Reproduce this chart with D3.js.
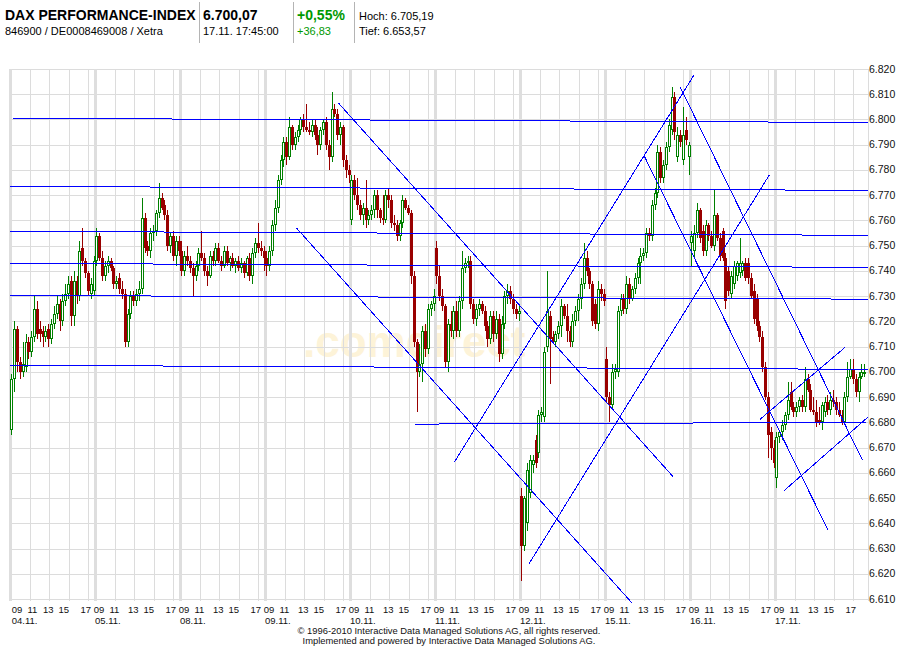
<!DOCTYPE html>
<html><head><meta charset="utf-8">
<script src="https://cdn.jsdelivr.net/npm/d3@7/dist/d3.min.js"></script>
<style>body{margin:0;background:#fff}svg{display:block}text{font-family:"Liberation Sans",Arial,Helvetica,sans-serif}</style>
</head><body><svg id="c" width="900" height="650"></svg>
<script>
// ---------- data ----------
const days = ["04.11.","05.11.","08.11.","09.11.","10.11.","11.11.","12.11.","15.11.","16.11.","17.11."];
const hourLabels = ["13","15","17"];
const yTicks = [6610,6620,6630,6640,6650,6660,6670,6680,6690,6700,6710,6720,6730,6740,6750,6760,6770,6780,6790,6800,6810,6820];
// candles [open, high, low, close]
const d0411 = [[6677,6699,6675,6697],[6697,6720,6692,6717],[6717,6718,6700,6704],[6704,6706,6697,6700],[6700,6712,6698,6703],[6702,6715,6700,6712],[6712,6714,6705,6708],[6708,6716,6706,6714],[6714,6730,6712,6725],[6725,6728,6713,6715],[6717,6720,6712,6715],[6716,6718,6710,6714],[6714,6718,6712,6716],[6717,6719,6710,6713],[6713,6721,6711,6719],[6719,6726,6717,6723],[6723,6730,6721,6727],[6727,6729,6716,6720],[6720,6731,6718,6728],[6728,6735,6726,6731],[6731,6738,6729,6735],[6736,6738,6718,6722],[6722,6740,6718,6736],[6736,6738,6727,6730],[6730,6752,6728,6748],[6749,6757,6742,6744],[6744,6745,6737,6739],[6739,6740,6730,6732],[6731,6737,6729,6735],[6732,6746,6730,6744]];
const d0511 = [[6744,6757,6742,6754],[6754,6755,6744,6745],[6745,6748,6736,6738],[6738,6744,6736,6742],[6742,6746,6739,6744],[6744,6745,6740,6741],[6741,6742,6733,6735],[6735,6738,6733,6736],[6737,6739,6731,6733],[6733,6736,6729,6731],[6731,6733,6710,6712],[6712,6725,6710,6723],[6723,6732,6721,6730],[6730,6732,6726,6728],[6728,6733,6726,6731],[6731,6736,6728,6733],[6733,6769,6731,6761],[6761,6763,6747,6749],[6750,6752,6746,6748],[6748,6757,6745,6755],[6755,6758,6752,6756],[6756,6764,6754,6763],[6763,6775,6761,6769],[6769,6771,6764,6765],[6766,6768,6760,6762],[6762,6764,6748,6750],[6750,6755,6747,6754],[6754,6756,6744,6746],[6746,6754,6742,6752],[6752,6754,6746,6748]];
const d0811 = [[6748,6752,6738,6740],[6740,6748,6738,6746],[6746,6750,6742,6744],[6744,6746,6739,6741],[6741,6743,6730,6738],[6738,6744,6736,6742],[6742,6749,6740,6747],[6747,6756,6744,6745],[6745,6747,6738,6740],[6740,6742,6734,6738],[6738,6748,6737,6746],[6746,6748,6742,6744],[6744,6751,6742,6749],[6749,6751,6743,6744],[6744,6746,6740,6742],[6742,6750,6741,6748],[6748,6750,6742,6743],[6743,6746,6740,6745],[6745,6747,6741,6742],[6742,6745,6739,6744],[6744,6746,6740,6741],[6741,6745,6739,6743],[6743,6744,6737,6739],[6739,6746,6738,6745],[6745,6747,6736,6738],[6738,6749,6735,6747],[6747,6753,6745,6751],[6751,6759,6747,6749],[6749,6752,6746,6748],[6748,6750,6740,6745]];
const d0911 = [[6745,6748,6738,6742],[6742,6750,6740,6748],[6748,6760,6746,6758],[6758,6768,6756,6765],[6765,6778,6763,6776],[6776,6786,6774,6784],[6784,6793,6781,6791],[6791,6793,6782,6785],[6785,6801,6784,6797],[6797,6798,6788,6790],[6790,6795,6788,6793],[6793,6798,6791,6796],[6796,6801,6794,6800],[6800,6802,6795,6797],[6797,6806,6795,6796],[6796,6799,6794,6795],[6795,6800,6793,6798],[6798,6800,6792,6794],[6794,6797,6786,6790],[6790,6797,6788,6796],[6796,6800,6794,6799],[6799,6801,6788,6790],[6790,6792,6780,6785],[6785,6811,6783,6804],[6804,6806,6801,6802],[6802,6804,6792,6794],[6794,6799,6790,6797],[6797,6798,6781,6784],[6784,6786,6777,6780],[6780,6782,6775,6778]];
const d1011 = [[6760,6778,6758,6776],[6776,6778,6768,6770],[6770,6777,6764,6766],[6766,6768,6760,6762],[6762,6767,6758,6765],[6765,6776,6757,6760],[6760,6764,6758,6762],[6762,6766,6760,6764],[6764,6772,6761,6770],[6770,6772,6761,6764],[6764,6765,6759,6761],[6761,6770,6758,6760],[6760,6772,6759,6770],[6770,6773,6765,6768],[6768,6770,6757,6759],[6759,6762,6756,6758],[6758,6760,6752,6754],[6754,6760,6752,6759],[6759,6770,6757,6768],[6768,6769,6764,6765],[6765,6766,6762,6763],[6763,6764,6735,6738],[6738,6740,6710,6712],[6712,6713,6684,6700],[6700,6711,6698,6703],[6703,6718,6696,6716],[6716,6719,6706,6709],[6709,6727,6707,6725],[6725,6728,6722,6727],[6727,6733,6724,6730]];
const d1111 = [[6749,6752,6735,6738],[6738,6742,6728,6730],[6730,6733,6724,6726],[6726,6727,6702,6704],[6704,6721,6700,6719],[6719,6724,6714,6716],[6716,6726,6713,6724],[6724,6728,6714,6716],[6716,6730,6714,6728],[6728,6748,6725,6741],[6741,6745,6739,6743],[6743,6746,6741,6744],[6744,6746,6725,6727],[6727,6729,6719,6721],[6721,6727,6718,6725],[6725,6729,6722,6727],[6727,6728,6723,6724],[6724,6726,6716,6718],[6718,6720,6710,6713],[6713,6724,6711,6722],[6722,6724,6712,6715],[6715,6724,6713,6721],[6721,6723,6704,6707],[6707,6722,6705,6719],[6719,6732,6717,6730],[6730,6735,6727,6732],[6732,6734,6727,6729],[6729,6731,6723,6725],[6725,6727,6721,6723],[6723,6726,6720,6724]];
const d1211 = [[6651,6654,6617,6631],[6631,6651,6629,6650],[6640,6664,6637,6661],[6652,6667,6650,6665],[6663,6667,6660,6665],[6673,6675,6662,6664],[6668,6685,6666,6683],[6683,6686,6680,6684],[6682,6710,6680,6708],[6710,6740,6708,6724],[6722,6724,6695,6713],[6714,6716,6711,6712],[6712,6716,6710,6715],[6715,6720,6713,6718],[6718,6729,6714,6726],[6726,6727,6721,6722],[6722,6727,6712,6716],[6716,6718,6710,6712],[6712,6723,6710,6720],[6720,6726,6718,6724],[6724,6731,6720,6729],[6729,6737,6725,6735],[6735,6751,6733,6745],[6745,6748,6738,6740],[6740,6741,6733,6735],[6735,6736,6718,6720],[6727,6729,6717,6719],[6719,6736,6716,6733],[6733,6735,6728,6731],[6731,6733,6726,6728]];
const d1511 = [[6705,6710,6688,6690],[6690,6692,6680,6687],[6687,6703,6685,6700],[6700,6703,6697,6701],[6700,6726,6698,6724],[6724,6731,6722,6729],[6729,6731,6723,6725],[6725,6738,6723,6735],[6735,6737,6727,6729],[6729,6734,6728,6733],[6733,6739,6731,6737],[6737,6745,6735,6743],[6743,6749,6735,6746],[6746,6749,6744,6747],[6747,6757,6745,6755],[6755,6757,6752,6754],[6754,6768,6752,6766],[6766,6773,6764,6771],[6771,6790,6769,6787],[6787,6789,6775,6777],[6777,6784,6775,6782],[6782,6791,6780,6789],[6789,6800,6787,6798],[6796,6813,6794,6809],[6809,6811,6792,6795],[6785,6797,6783,6794],[6794,6796,6789,6791],[6784,6805,6782,6794],[6796,6801,6790,6792],[6785,6791,6778,6790]];
const d1611 = [[6751,6756,6742,6754],[6748,6758,6745,6755],[6755,6767,6753,6764],[6764,6765,6751,6753],[6756,6758,6746,6748],[6748,6760,6746,6758],[6758,6759,6752,6754],[6754,6756,6749,6750],[6750,6772,6748,6762],[6762,6763,6752,6753],[6753,6755,6744,6746],[6756,6757,6744,6745],[6745,6747,6725,6728],[6740,6742,6730,6732],[6731,6740,6729,6738],[6735,6744,6733,6742],[6738,6744,6736,6743],[6739,6753,6737,6743],[6740,6744,6738,6743],[6743,6745,6736,6737],[6743,6745,6735,6737],[6737,6739,6729,6730],[6732,6735,6719,6721],[6729,6731,6716,6718],[6718,6720,6712,6714],[6714,6716,6700,6702],[6702,6704,6689,6690],[6690,6692,6666,6675],[6676,6678,6665,6670],[6670,6673,6662,6664]];
const d1711 = [[6658,6676,6654,6674],[6674,6677,6672,6676],[6676,6681,6673,6679],[6679,6684,6677,6683],[6683,6696,6681,6689],[6692,6696,6685,6686],[6686,6688,6682,6684],[6684,6688,6682,6686],[6686,6690,6684,6689],[6689,6691,6684,6686],[6686,6702,6684,6697],[6697,6699,6692,6693],[6693,6695,6684,6685],[6685,6690,6683,6684],[6684,6689,6678,6680],[6681,6686,6679,6680],[6680,6688,6677,6687],[6684,6690,6682,6688],[6688,6691,6683,6685],[6685,6692,6683,6689],[6689,6693,6686,6688],[6688,6690,6683,6685],[6685,6688,6682,6683],[6683,6685,6679,6680],[6680,6692,6679,6690],[6690,6704,6688,6698],[6698,6705,6697,6701],[6701,6705,6695,6697],[6697,6699,6690,6692],[6692,6700,6688,6698],[6698,6703,6697,6700],[6700,6703,6698,6700]];
const dayCandles = [d0411,d0511,d0811,d0911,d1011,d1111,d1211,d1511,d1611,d1711];
// drawn trend lines: [dayPos1, value1, dayPos2, value2]
const levelLines = [[0.035,6800.5,10.094,6798.8],[0,6773.5,10.094,6771.9],[0,6755.7,10.094,6754.1],[0,6743.0,10.094,6741.4],[0,6730.3,10.094,6728.8],[0,6702.6,10.094,6701.0],[4.765,6679.3,10.071,6680.0]];
const trendLines = [[3.862,6806.6,7.800,6658.5],[3.373,6756.9,7.318,6608.4],[5.227,6664.2,8.047,6817.6],[6.109,6624.1,8.933,6778.0],[7.462,6785.5,9.624,6637.3],[7.882,6813.0,10.027,6665.1],[8.824,6681.2,9.824,6709.7],[9.106,6652.9,10.098,6682.2]];

// ---------- chart ----------
const svg = d3.select("#c");
const x = d3.scaleLinear().domain([0,10]).range([10,860]);
const y = d3.scaleLinear().domain([6610,6820]).range([599,69]);
const xRight = 868, SLOTS = 30, DAYLEN = 8 + 40/60;
const hourPos = h => (h - 9) / DAYLEN;

// header
const hdr = svg.append("g");
hdr.append("text").attr("x",5).attr("y",19.5).attr("font-size",14).attr("font-weight","bold").text("DAX PERFORMANCE-INDEX");
hdr.append("text").attr("x",5).attr("y",35).attr("font-size",11).text("846900 / DE0008469008 / Xetra");
hdr.append("text").attr("x",203).attr("y",19.5).attr("font-size",14).attr("font-weight","bold").text("6.700,07");
hdr.append("text").attr("x",203).attr("y",35).attr("font-size",11).text("17.11.  17:45:00");
hdr.append("text").attr("x",297).attr("y",19.5).attr("font-size",14).attr("font-weight","bold").attr("fill","#009900").text("+0,55%");
hdr.append("text").attr("x",297).attr("y",35).attr("font-size",11).attr("fill","#009900").text("+36,83");
hdr.append("text").attr("x",359).attr("y",20).attr("font-size",11).text("Hoch: 6.705,19");
hdr.append("text").attr("x",359).attr("y",35).attr("font-size",11).text("Tief: 6.653,57");
[199.5,293.5,354.5].forEach(v=>hdr.append("line").attr("x1",v).attr("x2",v).attr("y1",2).attr("y2",43).attr("stroke","#b4b4b4"));

// watermark
svg.append("text").attr("x",303).attr("y",357).attr("font-size",44).attr("font-weight","bold")
  .attr("fill","#fdf3d8").text(".comdirect");

// grid
const grid = svg.append("g").attr("shape-rendering","crispEdges");
grid.selectAll("line.h").data(yTicks).join("line")
  .attr("x1",10).attr("x2",xRight).attr("y1",d=>Math.round(y(d))+0.5).attr("y2",d=>Math.round(y(d))+0.5)
  .attr("stroke","#dcdcdc");
days.forEach((dl,i)=>{
  [11,13,15,17].forEach(h=>{
    const xx = Math.round(x(i+hourPos(h)))+0.5;
    grid.append("line").attr("x1",xx).attr("x2",xx).attr("y1",69).attr("y2",601).attr("stroke","#dcdcdc");
  });
  const xd = Math.round(x(i))+0.5;
  grid.append("line").attr("x1",xd).attr("x2",xd).attr("y1",69).attr("y2",601).attr("stroke","#dedede").attr("stroke-width",3);
});
grid.append("line").attr("x1",xRight+0.5).attr("x2",xRight+0.5).attr("y1",69).attr("y2",601).attr("stroke","#dcdcdc");

// y axis labels
svg.append("g").selectAll("text").data(yTicks).join("text")
  .attr("x",xRight+1).attr("y",d=>y(d)+3.5).attr("font-size",10.5).attr("fill","#111")
  .text(d=>(d/1000).toFixed(3));

// x axis labels
const xl = svg.append("g").attr("font-size",9.5).attr("fill","#111");
days.forEach((dl,i)=>{
  const x0 = x(i);
  xl.append("text").attr("x", i===0 ? x0+1.7 : x0-1.3).attr("y",612.5).text("09");
  xl.append("text").attr("x", i===0 ? x0+17.5 : x0+14.5).attr("y",612.5).text("11");
  [33,48.5,70.5].forEach((off,k)=>xl.append("text").attr("x",x0+off).attr("y",612.5).text(hourLabels[k]));
  xl.append("text").attr("x", i===0 ? x0+1.7 : x0).attr("y",623.5).text(dl);
});

// candles
const cg = svg.append("g").attr("shape-rendering","crispEdges");
dayCandles.forEach((arr,di)=>{
  arr.forEach((c,i)=>{
    const [o,h,l,cl] = c;
    const cx = Math.round(x(di + (i+0.5)/SLOTS));
    const up = cl >= o;
    const col = up ? "#008000" : "#990000";
    cg.append("line").attr("x1",cx+0.5).attr("x2",cx+0.5).attr("y1",y(h)).attr("y2",y(l)).attr("stroke",col);
    const top = Math.round(y(Math.max(o,cl))), bot = Math.round(y(Math.min(o,cl)));
    if (up) {
      cg.append("rect").attr("x",cx-0.5).attr("y",top+0.5).attr("width",2).attr("height",Math.max(1,bot-top-1))
        .attr("fill","#fff").attr("stroke",col);
    } else {
      cg.append("rect").attr("x",cx-1).attr("y",top).attr("width",3).attr("height",Math.max(1,bot-top)).attr("fill",col);
    }
  });
});

// drawn lines
const lg = svg.append("g").attr("shape-rendering","crispEdges");
lg.selectAll("line.lv").data(levelLines).join("line")
  .attr("x1",d=>x(d[0])).attr("y1",d=>y(d[1])).attr("x2",d=>x(d[2])).attr("y2",d=>y(d[3]))
  .attr("stroke","#0000ff").attr("stroke-width",1);
lg.selectAll("line.tr").data(trendLines).join("line")
  .attr("x1",d=>x(d[0])).attr("y1",d=>y(d[1])).attr("x2",d=>x(d[2])).attr("y2",d=>y(d[3]))
  .attr("stroke","#0000ff").attr("stroke-width",1);

// copyright
svg.append("text").attr("x",449).attr("y",634).attr("text-anchor","middle").attr("font-size",9.4).attr("fill","#111")
  .text("\u00A9 1996-2010 Interactive Data Managed Solutions AG, all rights reserved.");
svg.append("text").attr("x",449).attr("y",644).attr("text-anchor","middle").attr("font-size",9.4).attr("fill","#111")
  .text("Implemented and powered by Interactive Data Managed Solutions AG.");
</script></body></html>
